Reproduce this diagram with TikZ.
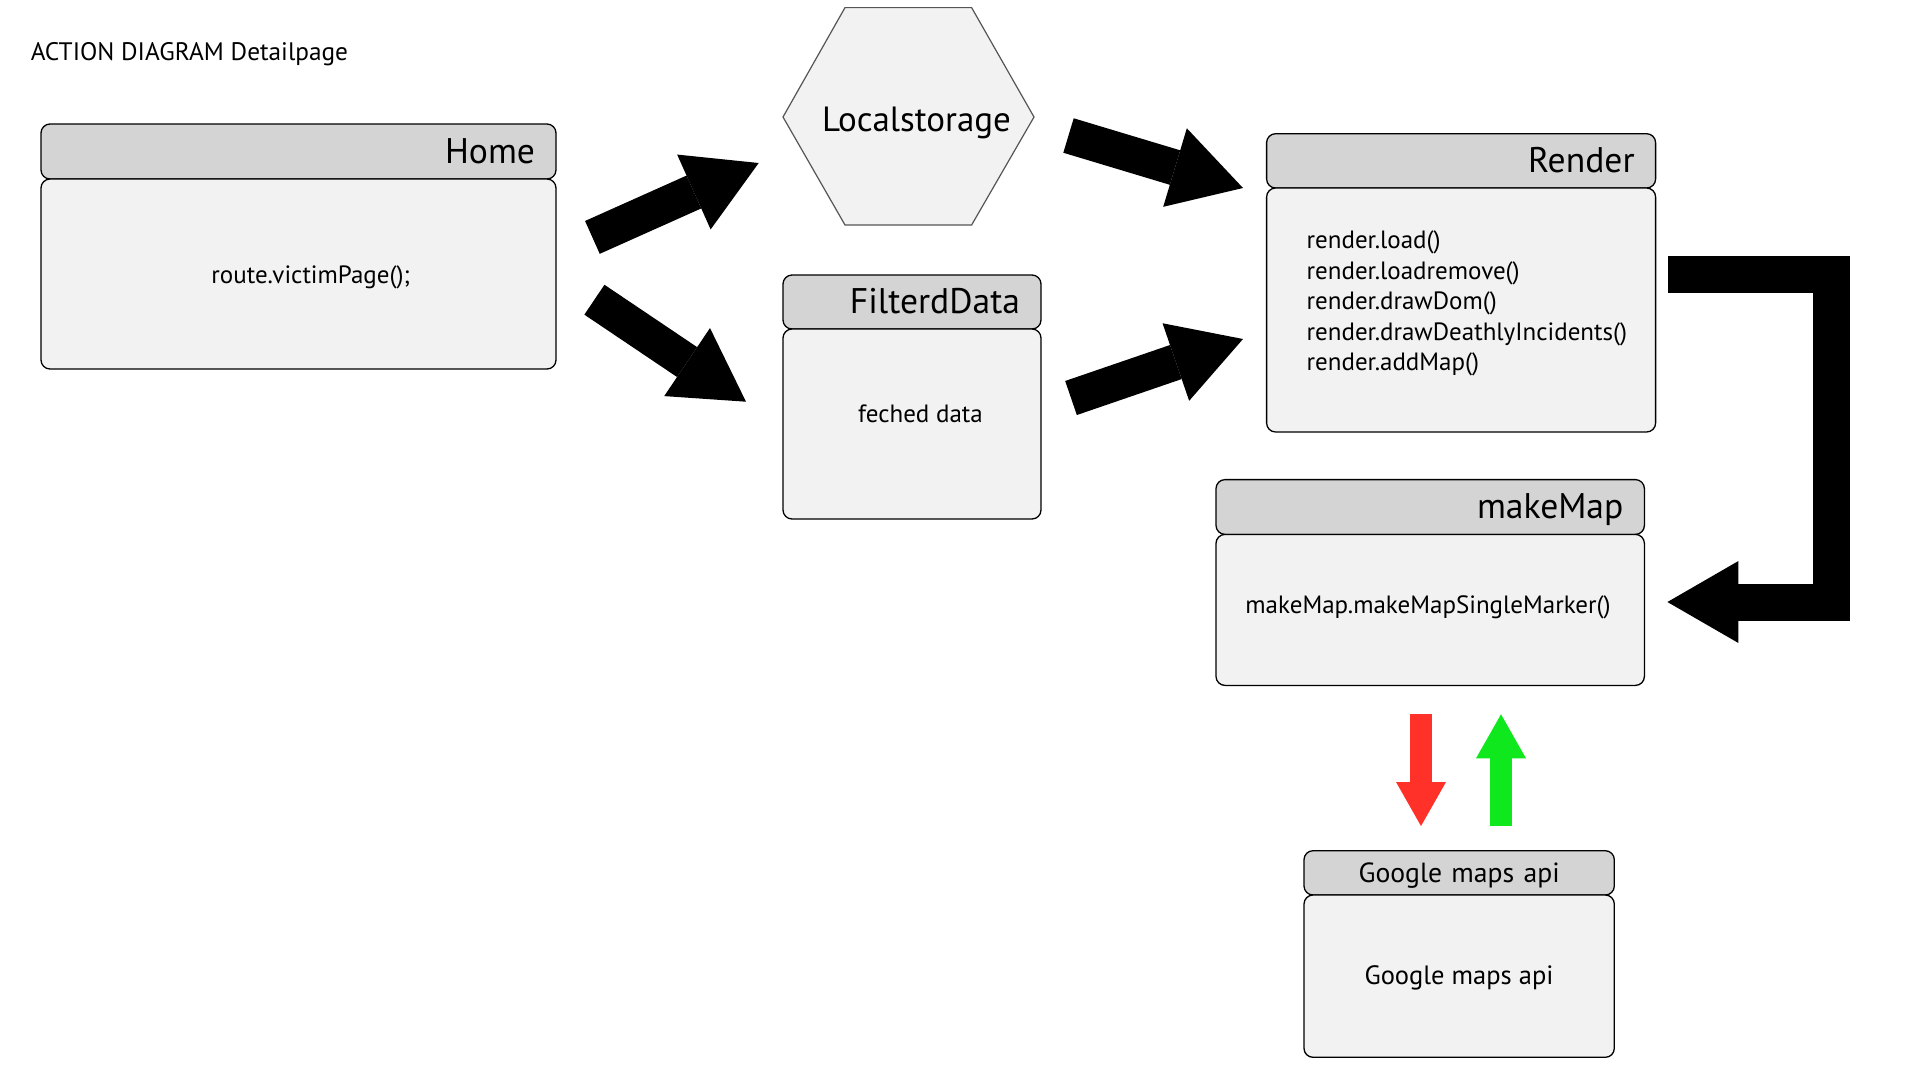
\documentclass[tikz,border=0pt]{standalone}
\usepackage{fontspec}
\setmainfont{PT Sans}
\usepackage{xcolor}
\definecolor{colorHead}{HTML}{D4D4D4}
\definecolor{colorBody}{HTML}{F2F2F2}
\definecolor{colorHexBorder}{HTML}{555555}
\definecolor{colorRequest}{HTML}{FF3129}
\definecolor{colorResponse}{HTML}{10E81E}
\usetikzlibrary{arrows.meta, positioning}
\tikzset{
  boxHead/.style={draw=black, fill=colorHead, rounded corners=9pt, line width=1.3pt, outer sep=0pt,
    inner xsep=21pt, inner ysep=0pt, align=right, text height=23pt, text depth=0pt,
    font=\fontsize{35.6}{38}\selectfont, anchor=north west},
  boxBody/.style={draw=black, fill=colorBody, rounded corners=9pt, line width=1.3pt, outer sep=0pt, inner sep=0pt},
  bodyText/.style={font=\fontsize{25}{30}\selectfont, inner sep=0pt, anchor=base},
  bigArrow/.style={line width=36pt, -{Triangle[length=71pt, width=82pt, line width=0pt]}},
  smallArrow/.style={line width=22pt, -{Triangle[length=44pt, width=50pt, line width=0pt]}},
}
\begin{document}
\begin{tikzpicture}[x=1pt, y=-1pt]
\useasboundingbox[fill=white] (0,0) rectangle (1920,1080);
\node[font=\fontsize{25.3}{28}\selectfont, inner sep=0pt, anchor=base west] (title) at (30.6,60) {ACTION DIAGRAM Detailpage};

% boxes
\node[boxHead, minimum width=515pt, minimum height=55pt, text width=473pt] (homeHead) at (41,124) {Home};
\node[boxBody, minimum width=515pt, minimum height=190pt, below=0pt of homeHead] (homeBody) {};
\node[bodyText] (homeCall) at (310.7,283) {route.victimPage();};

\node[boxHead, minimum width=258pt, minimum height=54pt, text width=216pt] (dataHead) at (783,275) {FilterdData};
\node[boxBody, minimum width=258pt, minimum height=190pt, below=0pt of dataHead] (dataBody) {};
\node[bodyText] (dataText) at (920.5,422) {feched data};

\node[boxHead, minimum width=389pt, minimum height=54.3pt, text width=347pt] (renderHead) at (1266.6,133.7) {Render};
\node[boxBody, minimum width=389pt, minimum height=244pt, below=0pt of renderHead] (renderBody) {};
\foreach \fn [count=\i] in {load, loadremove, drawDom, drawDeathlyIncidents, addMap}
  \node[bodyText, anchor=base west] (render\i) at (1306.5,{248.5+30.6*(\i-1)}) {render.\fn()};

\node[boxHead, minimum width=428.4pt, minimum height=54.8pt, text width=386.4pt] (mapHead) at (1216,479.6) {makeMap};
\node[boxBody, minimum width=428.4pt, minimum height=151pt, below=0pt of mapHead] (mapBody) {};
\node[bodyText] (mapCall) at (1428,613) {makeMap.makeMapSingleMarker()};

\node[boxHead, minimum width=310.3pt, minimum height=44.3pt, text width=268.3pt, align=center,
  text height=18.3pt, font=\fontsize{27.7}{30}\selectfont] (apiHead) at (1304,850.7) {Google maps api};
\node[boxBody, minimum width=310.3pt, minimum height=162.3pt, below=0pt of apiHead] (apiBody) {};
\node[bodyText, font=\fontsize{26.5}{30}\selectfont] (apiText) at (1459,984.3) {Google maps api};

% localstorage
\draw[fill=colorBody, draw=colorHexBorder, line width=1.2pt] (845,7.6) -- (971.6,7.6) -- (1034,117)
  -- (971.6,225) -- (845,225) -- (783,117) -- cycle;
\node[font=\fontsize{35}{38}\selectfont, inner sep=0pt, anchor=base] (lstore) at (916.5,131) {Localstorage};

% arrows
\coordinate (homeToLs) at (592.4,237.4);
\coordinate (lsIn) at (758.7,163);
\coordinate (homeToData) at (594.4,299.7);
\coordinate (dataIn) at (746,401.7);
\coordinate (lsToRender) at (1068.5,135.5);
\coordinate (renderInTop) at (1243,188);
\coordinate (dataToRender) at (1071,398);
\coordinate (renderInBottom) at (1243,339);
\coordinate (renderOut) at (1668.3,274);
\coordinate (mapIn) at (1667.4,602);
\draw[bigArrow] (homeToLs) -- (lsIn);
\draw[bigArrow] (homeToData) -- (dataIn);
\draw[bigArrow] (lsToRender) -- (renderInTop);
\draw[bigArrow] (dataToRender) -- (renderInBottom);
\draw[bigArrow, line width=37pt] (renderOut) -- ++(163,0) -- ++(0,328) -- (mapIn);

\coordinate (reqOut) at (1421,714);
\coordinate (reqIn) at (1421,826);
\coordinate (resOut) at (1501,826);
\coordinate (resIn) at (1501,714.3);
\draw[smallArrow, colorRequest] (reqOut) -- (reqIn);
\draw[smallArrow, colorResponse] (resOut) -- (resIn);
\end{tikzpicture}
\end{document}
